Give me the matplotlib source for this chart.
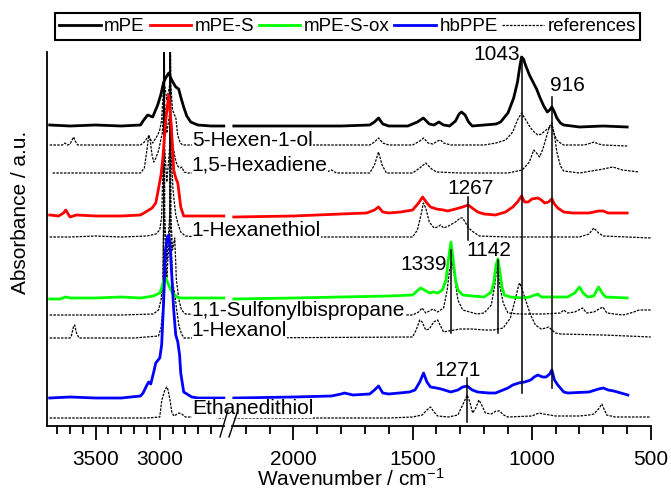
import numpy as np
import matplotlib.pyplot as plt
from matplotlib.lines import Line2D

plt.rcParams['font.family'] = ['Liberation Sans', 'DejaVu Sans']
plt.rcParams['mathtext.default'] = 'regular'

nan = np.nan

# spectra: wavenumber (cm-1) and absorbance above each trace's own baseline
# a NaN point separates the high-wavenumber part from the fingerprint part
mpe_wn = [3859, 3700, 3500, 3300, 3150, 3125, 3094, 3055, 3016, 2992, 2969, 2945, 2930, 2914, 2898, 2875,
          2852, 2836, 2813, 2789, 2758, 2703, 2600, 2500, 2400,
          2250, 2000, 1800, 1680, 1660, 1643, 1625, 1600, 1520, 1480, 1455, 1430, 1410, 1390, 1370, 1345,
          1320, 1305, 1295, 1280, 1265, 1250, 1150, 1131, 1100, 1076, 1060, 1050, 1043, 1035, 1025, 1010,
          995, 980, 965, 950, 935, 925, 916, 905, 895, 880, 866, 800, 700, 600]
mpe_a = [0.01, 0, 0.01, 0, 0.01, 0.06, 0.11, 0.09, 0.21, 0.31, 0.44, 0.50, 0.53, 0.48, 0.44, 0.39,
         0.37, 0.29, 0.19, 0.10, 0.04, 0.01, 0, 0, nan,
         0, 0, 0, 0.01, 0.04, 0.08, 0.02, 0, 0, 0.04, 0.08, 0.02, 0.01, 0.04, 0.01, 0,
         0.05, 0.12, 0.14, 0.11, 0.04, 0, 0.02, 0.04, 0.13, 0.28, 0.44, 0.60, 0.69, 0.67, 0.60, 0.51,
         0.44, 0.37, 0.28, 0.20, 0.14, 0.16, 0.19, 0.14, 0.08, 0.03, 0.01, -0.01, 0, -0.01]

hexenol_wn = [3859, 3760, 3740, 3720, 3700, 3680, 3672, 3660, 3640, 3200, 3150, 3120, 3094, 3080, 3070, 3055,
              3040, 3016, 3000, 2985, 2970, 2966, 2962, 2945, 2922, 2918, 2914, 2900, 2885, 2875, 2860, 2840,
              2820, 2500, 2400,
              2250, 1900, 1680, 1660, 1643, 1625, 1600, 1500, 1470, 1454, 1435, 1415, 1395, 1383, 1370, 1340,
              1200, 1150, 1110, 1080, 1060, 1043, 1025, 1005, 990, 975, 960, 945, 930, 916, 905, 895, 880,
              866, 780, 750, 740, 720, 700, 600]
hexenol_a = [0, 0, 0.02, 0, 0.01, 0.06, 0.08, 0.04, 0, 0, 0, 0.03, 0.08, 0.08, 0.05, 0.02,
             0.05, 0.10, 0.15, 0.25, 0.6, 1.3, 0.6, 0.45, 0.6, 1.3, 0.6, 0.35, 0.30, 0.28, 0.10, 0.02,
             0, 0, nan,
             0, 0, 0, 0.03, 0.07, 0.02, 0, 0, 0.04, 0.07, 0.02, 0.01, 0.04, 0.05, 0.02, 0,
             0, 0.02, 0.05, 0.13, 0.25, 0.32, 0.25, 0.17, 0.13, 0.10, 0.11, 0.14, 0.17, 0.19, 0.10, 0.05, 0.02,
             0, 0, 0.02, 0.03, 0.01, 0, -0.01]

hexadiene_wn = [3836, 3500, 3300, 3150, 3120, 3100, 3086, 3075, 3060, 3047, 3030, 3008, 2992, 2980, 2970,
                2966, 2962, 2945, 2922, 2918, 2914, 2900, 2880, 2865, 2852, 2840, 2828, 2810, 2780, 2500, 2400,
                2250, 1900, 1860, 1840, 1820, 1680, 1660, 1643, 1628, 1610, 1500, 1470, 1445, 1420, 1400,
                1300, 1100, 1040, 1010, 992, 980, 968, 955, 940, 925, 916, 905, 895, 880, 866, 800, 700,
                660, 620, 550]
hexadiene_a = [0, 0, 0, 0, 0.05, 0.23, 0.38, 0.33, 0.18, 0.11, 0.15, 0.23, 0.33, 0.40, 0.7,
               1.4, 0.7, 0.40, 0.6, 1.4, 0.6, 0.30, 0.15, 0.08, 0.06, 0.05, 0.06, 0.01, 0, 0, nan,
               0, 0, 0.01, 0.03, 0, 0, 0.08, 0.21, 0.08, 0, 0, 0.05, 0.10, 0.04, 0.01,
               0, 0, 0.03, 0.11, 0.23, 0.20, 0.16, 0.23, 0.35, 0.47, 0.50, 0.38, 0.21, 0.07, 0.02, 0, 0.04,
               0.06, 0.03, 0.01]

mpes_wn = [3859, 3790, 3750, 3734, 3715, 3700, 3650, 3500, 3300, 3150, 3110, 3060, 3031, 3016, 2990, 2977,
           2953, 2930, 2910, 2891, 2875, 2859, 2836, 2813, 2700, 2500, 2400,
           2250, 2000, 1800, 1693, 1660, 1643, 1625, 1600, 1550, 1500, 1475, 1458, 1440, 1425, 1400, 1370,
           1353, 1320, 1290, 1267, 1250, 1227, 1200, 1152, 1110, 1080, 1060, 1043, 1030, 1015, 1000, 975,
           960, 946, 930, 916, 905, 891, 866, 829, 760, 720, 700, 680, 600]
mpes_a = [0, -0.01, 0.02, 0.05, 0.01, -0.02, 0, -0.01, -0.01, 0, 0.03, 0.07, 0.12, 0.22, 0.40, 0.55,
          0.95, 1.20, 0.90, 0.45, 0.37, 0.32, 0.08, -0.01, -0.01, -0.01, nan,
          -0.02, -0.01, 0.01, 0.02, 0.05, 0.08, 0.03, 0.02, 0.03, 0.05, 0.12, 0.18, 0.12, 0.08, 0.06, 0.05,
          0.04, 0.06, 0.08, 0.10, 0.07, 0.03, 0.01, 0, 0.03, 0.08, 0.13, 0.19, 0.13, 0.13, 0.16, 0.17,
          0.15, 0.12, 0.13, 0.16, 0.11, 0.07, 0.03, 0.02, 0.02, 0.04, 0.04, 0.02, 0.02]

hexanethiol_wn = [3859, 3700, 3500, 3300, 3100, 3030, 3000, 2985, 2970, 2966, 2962, 2945, 2922, 2918, 2914,
                  2895, 2875, 2855, 2836, 2800, 2700, 2500, 2400,
                  2250, 1500, 1480, 1465, 1455, 1445, 1430, 1410, 1395, 1383, 1370, 1350, 1320, 1300, 1290,
                  1280, 1265, 1245, 1220, 1100, 800, 760, 740, 720, 700, 600, 501]
hexanethiol_a = [0, 0, 0.01, 0, 0.01, 0.03, 0.07, 0.20, 0.9, 2.5, 0.9, 0.55, 0.9, 2.5, 0.9,
                 0.45, 0.22, 0.12, 0.05, 0.01, 0, 0, nan,
                 0, 0, 0.07, 0.22, 0.34, 0.29, 0.15, 0.09, 0.10, 0.12, 0.09, 0.11, 0.15, 0.19, 0.19,
                 0.15, 0.09, 0.05, 0.01, 0, 0, 0.03, 0.09, 0.04, 0.01, 0, -0.01]

mpesox_wn = [3859, 3780, 3734, 3700, 3500, 3300, 3150, 3050, 3000, 2985, 2969, 2953, 2940, 2920, 2900, 2875,
             2850, 2700, 2500, 2400,
             2250, 2000, 1800, 1600, 1500, 1467, 1450, 1430, 1412, 1395, 1375, 1360, 1350, 1339, 1330, 1320,
             1310, 1290, 1250, 1200, 1170, 1160, 1150, 1142, 1135, 1125, 1115, 1090, 1040, 1010, 975, 960,
             900, 850, 820, 800, 785, 765, 740, 720, 705, 690, 600]
mpesox_a = [-0.01, -0.01, 0.01, 0, 0, 0.01, 0, 0.02, 0.05, 0.10, 0.18, 0.20, 0.16, 0.10, 0.05, 0.02,
            0, 0, 0, nan,
            -0.01, 0, 0.01, 0.02, 0.03, 0.10, 0.08, 0.05, 0.06, 0.05, 0.08, 0.18, 0.38, 0.56, 0.38, 0.18,
            0.08, 0.03, 0.02, 0.01, 0.06, 0.15, 0.33, 0.39, 0.28, 0.11, 0.03, 0.01, 0, 0.01, 0.04, 0.01,
            0.01, 0.01, 0.05, 0.11, 0.05, 0.01, 0.02, 0.11, 0.05, 0.01, 0]

sulfonyl_wn = [3859, 3300, 3050, 3010, 2990, 2975, 2970, 2966, 2962, 2945, 2922, 2918, 2914, 2900, 2883,
               2870, 2850, 2830, 2800, 2500, 2400,
               2250, 1500, 1475, 1460, 1445, 1430, 1415, 1395, 1370, 1355, 1345, 1335, 1325, 1310, 1290,
               1260, 1230, 1200, 1170, 1155, 1145, 1135, 1120, 1100, 1050, 950, 880, 866, 850, 820, 787,
               770, 740, 702, 685, 620, 600, 572, 550, 501]
sulfonyl_a = [0, 0, 0.01, 0.05, 0.15, 0.35, 1.0, 2.8, 1.0, 0.55, 1.0, 2.8, 1.0, 0.65, 0.77,
              0.35, 0.15, 0.05, 0.01, 0, nan,
              0, 0, 0.03, 0.07, 0.02, 0.04, 0.06, 0.03, 0.07, 0.25, 0.45, 0.53, 0.40, 0.15, 0.05,
              0.03, 0.01, 0.02, 0.10, 0.30, 0.52, 0.30, 0.12, 0.02, 0.01, 0.01, 0.02, 0.05, 0.02, 0.03, 0.07,
              0.02, 0.03, 0.08, 0.02, 0, 0.01, 0.03, 0.05, 0.05]

hexanol_wn = [3859, 3700, 3690, 3672, 3664, 3650, 3630, 3200, 3010, 2990, 2975, 2970, 2966, 2962, 2945, 2922,
              2918, 2914, 2900, 2883, 2870, 2850, 2830, 2810, 2500, 2400,
              2250, 1500, 1485, 1470, 1460, 1445, 1430, 1412, 1395, 1385, 1370, 1350, 1300, 1250, 1200,
              1160, 1120, 1090, 1070, 1055, 1050, 1040, 1026, 1005, 985, 960, 940, 929, 916, 900, 880,
              700, 600, 501]
hexanol_a = [0, 0, 0.02, 0.12, 0.13, 0.05, 0, 0, 0.02, 0.10, 0.30, 1.1, 3.0, 1.1, 0.60, 1.1,
             3.0, 1.1, 0.55, 0.45, 0.30, 0.12, 0.04, 0, 0, nan,
             0, 0.01, 0.08, 0.18, 0.16, 0.08, 0.09, 0.16, 0.18, 0.13, 0.06, 0.07, 0.09, 0.09, 0.08,
             0.08, 0.10, 0.20, 0.38, 0.53, 0.55, 0.48, 0.38, 0.23, 0.13, 0.09, 0.10, 0.11, 0.08, 0.05, 0.04,
             0.03, 0.02, 0.01]

hbppe_wn = [3859, 3700, 3500, 3300, 3150, 3130, 3100, 3086, 3070, 3047, 3031, 3000, 2985, 2969, 2955, 2940,
            2930, 2920, 2906, 2891, 2875, 2859, 2845, 2836, 2813, 2750, 2700, 2500, 2400,
            2250, 2000, 1840, 1800, 1786, 1750, 1680, 1660, 1643, 1625, 1600, 1513, 1490, 1470, 1454, 1440,
            1425, 1400, 1380, 1340, 1310, 1290, 1271, 1250, 1227, 1180, 1152, 1100, 1080, 1055, 1030, 1005,
            990, 975, 955, 940, 925, 916, 905, 891, 866, 849, 760, 720, 700, 680, 656, 597]
hbppe_a = [0, 0.01, 0, 0, 0.02, 0.05, 0.13, 0.16, 0.14, 0.26, 0.35, 0.40, 0.53, 0.98, 1.48, 1.61,
           1.63, 1.53, 1.23, 0.88, 0.63, 0.56, 0.43, 0.25, 0.06, 0.01, 0, 0, nan,
           0, 0.01, 0.02, 0.04, 0.05, 0.03, 0.04, 0.08, 0.12, 0.05, 0.04, 0.06, 0.08, 0.16, 0.25, 0.16,
           0.11, 0.10, 0.09, 0.06, 0.08, 0.11, 0.12, 0.08, 0.06, 0.05, 0.05, 0.10, 0.13, 0.15, 0.16, 0.18,
           0.21, 0.23, 0.21, 0.21, 0.24, 0.28, 0.18, 0.13, 0.06, 0.05, 0.06, 0.09, 0.10, 0.08, 0.07, 0.03]

ethanedithiol_wn = [3859, 3500, 3100, 3000, 2984, 2960, 2945, 2935, 2920, 2906, 2890, 2850, 2828, 2800, 2650,
                    2610, 2594, 2580, 2550, 2500, 2400,
                    2250, 1600, 1500, 1460, 1440, 1425, 1410, 1395, 1350, 1310, 1290, 1271, 1260, 1248, 1235,
                    1222, 1210, 1195, 1170, 1150, 1135, 1118, 1100, 1000, 970, 950, 900, 800, 760, 740, 720,
                    706, 695, 686, 650, 600, 550, 501]
ethanedithiol_a = [0, 0, 0, 0.01, 0.18, 0.28, 0.31, 0.28, 0.18, 0.06, 0.02, 0.05, 0.04, 0.01, 0.01,
                   0.04, 0.05, 0.02, 0, 0, nan,
                   0, 0, 0.01, 0.03, 0.08, 0.11, 0.06, 0.02, 0.01, 0.03, 0.13, 0.23, 0.16, 0.05, 0.10,
                   0.18, 0.13, 0.05, 0.04, 0.07, 0.07, 0.03, 0.01, 0.02, 0.05, 0.04, 0.02, 0.02, 0.03, 0.04, 0.09,
                   0.14, 0.08, 0.03, 0.01, 0.01, 0.01, 0.01]

# vertical stacking offsets
offsets = {'mpe': 3.00, 'hexenol': 2.81, 'hexadiene': 2.53, 'mpes': 2.11, 'hexanethiol': 1.89,
           'mpesox': 1.28, 'sulfonyl': 1.11, 'hexanol': 0.88, 'hbppe': 0.28, 'ethanedithiol': 0.08}

# band markers: wavenumber, line bottom, line top, label x, label y
band_pos = [1043, 916, 1267, 1339, 1142, 1271]
band_lo = [0.33, 0.38, 1.86, 0.93, 0.93, 0.04]
band_hi = [3.69, 3.29, 2.29, 1.76, 1.66, 0.48]
band_tx = [1147, 849, 1257, 1454, 1181, 1311]
band_ty = [3.72, 3.41, 2.38, 1.61, 1.76, 0.56]

ref_names = ['5-Hexen-1-ol', '1,5-Hexadiene', '1-Hexanethiol', '1,1-Sulfonylbispropane', '1-Hexanol',
             'Ethanedithiol']
ref_label_y = [2.86, 2.61, 1.96, 1.15, 0.96, 0.18]

# broken wavenumber axis: 3880-2500 compressed, gap, then 2250-500
brk_wn = [500, 2250, 2500, 3880]
brk_pos = [0, 416.5, 426.5, 603]


def fwd(x):
    return np.interp(x, brk_wn, brk_pos)


def inv(p):
    return np.interp(p, brk_pos, brk_wn)


W, H = 671, 491
fig = plt.figure(figsize=(W / 100, H / 100), dpi=100)
ax = fig.add_axes([47 / W, 1 - 426 / H, 604 / W, 374 / H])
ax.set_xscale('function', functions=(fwd, inv))
ax.set_xlim(3880, 500)
ax.set_ylim(0, 3.74)

dot = (0, (2, 1))
refs = [(hexenol_wn, hexenol_a, 'hexenol'), (hexadiene_wn, hexadiene_a, 'hexadiene'),
        (hexanethiol_wn, hexanethiol_a, 'hexanethiol'), (sulfonyl_wn, sulfonyl_a, 'sulfonyl'),
        (hexanol_wn, hexanol_a, 'hexanol'), (ethanedithiol_wn, ethanedithiol_a, 'ethanedithiol')]
for wn, a, key in refs:
    ax.plot(wn, np.array(a) + offsets[key], color='black', lw=0.9, ls=dot, zorder=2)

samples = [(mpe_wn, mpe_a, 'mpe', 'black'), (mpes_wn, mpes_a, 'mpes', '#ff0000'),
           (mpesox_wn, mpesox_a, 'mpesox', '#00ff00'), (hbppe_wn, hbppe_a, 'hbppe', '#0000ff')]
for wn, a, key, c in samples:
    ax.plot(wn, np.array(a) + offsets[key], color=c, lw=2.0, zorder=3)

for p, lo, hi, tx, ty in zip(band_pos, band_lo, band_hi, band_tx, band_ty):
    ax.plot([p, p], [lo, hi], color='black', lw=1.1, zorder=4)
    ax.text(tx, ty, str(p), fontsize=15, ha='center', va='center', zorder=5)

for name, y in zip(ref_names, ref_label_y):
    ax.text(2750, y, name, fontsize=15, ha='left', va='center', zorder=4,
            bbox=dict(facecolor='white', edgecolor='none', pad=0))

# ticks
ax.set_xticks([3500, 3000, 2000, 1500, 1000, 500])
ax.set_xticklabels(['3500', '3000', '2000', '1500', '1000', '500'], fontsize=15)
ax.set_xticks([3800, 3700, 3600, 3400, 3300, 3200, 3100, 2900, 2800, 2700, 2600,
               2200, 2100, 1900, 1800, 1700, 1600, 1400, 1300, 1200, 1100, 900, 800, 700, 600], minor=True)
ax.tick_params(axis='x', which='major', length=10, width=1.3, direction='out', pad=7)
ax.tick_params(axis='x', which='minor', length=6, width=1.3, direction='out')
ax.set_yticks([])

for s in ['top', 'right', 'bottom']:
    ax.spines[s].set_visible(False)
ax.spines['left'].set_linewidth(1.3)

# bottom axis line with break marks
ax.plot([0, 177 / 604], [0, 0], transform=ax.transAxes, color='black', lw=1.3, clip_on=False, zorder=6)
ax.plot([185 / 604, 1], [0, 0], transform=ax.transAxes, color='black', lw=1.3, clip_on=False, zorder=6)
for x0, x1 in [(220, 228), (229, 238)]:
    fig.add_artist(Line2D([x0 / W, x1 / W], [1 - 437 / H, 1 - 410 / H], color='black', lw=1.0))

fig.text(351 / W, 1 - 479 / H, 'Wavenumber / cm$^{-1}$', fontsize=15, ha='center', va='center')
fig.text(21 / W, 1 - 212 / H, 'Absorbance / a.u.', fontsize=15, ha='center', va='center', rotation=90)

handles = [Line2D([], [], color='black', lw=2.0), Line2D([], [], color='#ff0000', lw=2.0),
           Line2D([], [], color='#00ff00', lw=2.0), Line2D([], [], color='#0000ff', lw=2.0),
           Line2D([], [], color='black', lw=0.9, ls=dot)]
leg = fig.legend(handles, ['mPE', 'mPE-S', 'mPE-S-ox', 'hbPPE', 'references'], ncol=5, fontsize=13.5,
                 loc='center', bbox_to_anchor=(347.5 / W, 1 - 26.5 / H), handlelength=2.2,
                 handletextpad=0.2, columnspacing=0.25, borderpad=0.25, fancybox=False,
                 edgecolor='black', framealpha=1)
leg.get_frame().set_linewidth(1.5)

fig.savefig('out.png', dpi=100)
